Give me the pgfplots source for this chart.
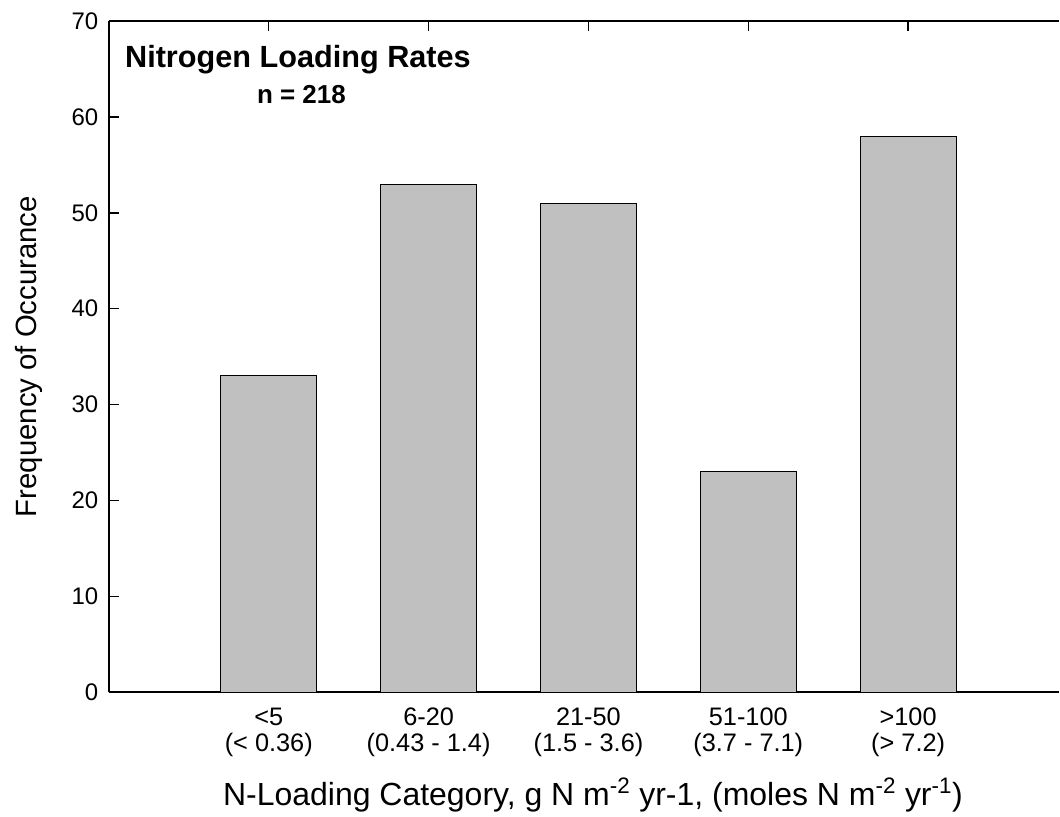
\documentclass[border=0pt]{standalone}
\usepackage{pgfplots}
\pgfplotsset{compat=1.18}
\usepackage{fontspec}
\setmainfont{Liberation Sans}
\definecolor{bargray}{RGB}{192,192,192}
\begin{document}
\begin{tikzpicture}
\begin{axis}[
  scale only axis, width=713.25pt, height=504pt,
  xmin=0, xmax=5.94375, ymin=0, ymax=70,
  axis x line*=box, axis y line*=left,
  axis line style={line width=1.5pt},
  every tick/.style={black, line width=1.1pt},
  tick align=inside, major tick length=7.5pt,
  ytick={0,10,20,30,40,50,60,70},
  xtick={1,2,3,4,5},
  xtick pos=right, xticklabel pos=left,
  ytick pos=left,
  xticklabels={{<5\\(< 0.36)},{6-20\\(0.43 - 1.4)},{21-50\\(1.5 - 3.6)},{51-100\\(3.7 - 7.1)},{>100\\(> 7.2)}},
  /pgf/number format/assume math mode=true,
  y tick label style={font=\fontsize{18}{21}\selectfont, xshift=-4.5pt},
  x tick label style={font=\fontsize{19}{19.5}\selectfont, align=center, anchor=north, yshift=-8pt},
  ylabel={Frequency of Occurance},
  xlabel={N-Loading Category, g N m\textsuperscript{-2} yr-1, (moles N m\textsuperscript{-2} yr\textsuperscript{-1})},
  ylabel style={font=\fontsize{22}{26}\selectfont, at={(axis description cs:-0.0757,0.5)}, anchor=base, rotate=0},
  xlabel style={font=\fontsize{24}{28}\selectfont, at={(axis description cs:0.5095,-0.168)}, anchor=base},
  clip=false,
]
\addplot[ybar, bar width=0.6, fill=bargray, draw=black, line width=0.6pt] coordinates {(1,33) (2,53) (3,51) (4,23) (5,58)};
\node[anchor=base west, font=\bfseries\fontsize{23}{27}\selectfont, inner sep=0pt] at (axis cs:0.1,65.1) {Nitrogen Loading Rates};
\node[anchor=base west, font=\bfseries\fontsize{19.5}{23}\selectfont, inner sep=0pt] at (axis cs:0.925,61.35) {n = 218};
\end{axis}
\path (current axis.south west) +(-81.75pt,-90pt);
\path (current axis.north east) +(0pt,15.75pt);
\end{tikzpicture}
\end{document}
